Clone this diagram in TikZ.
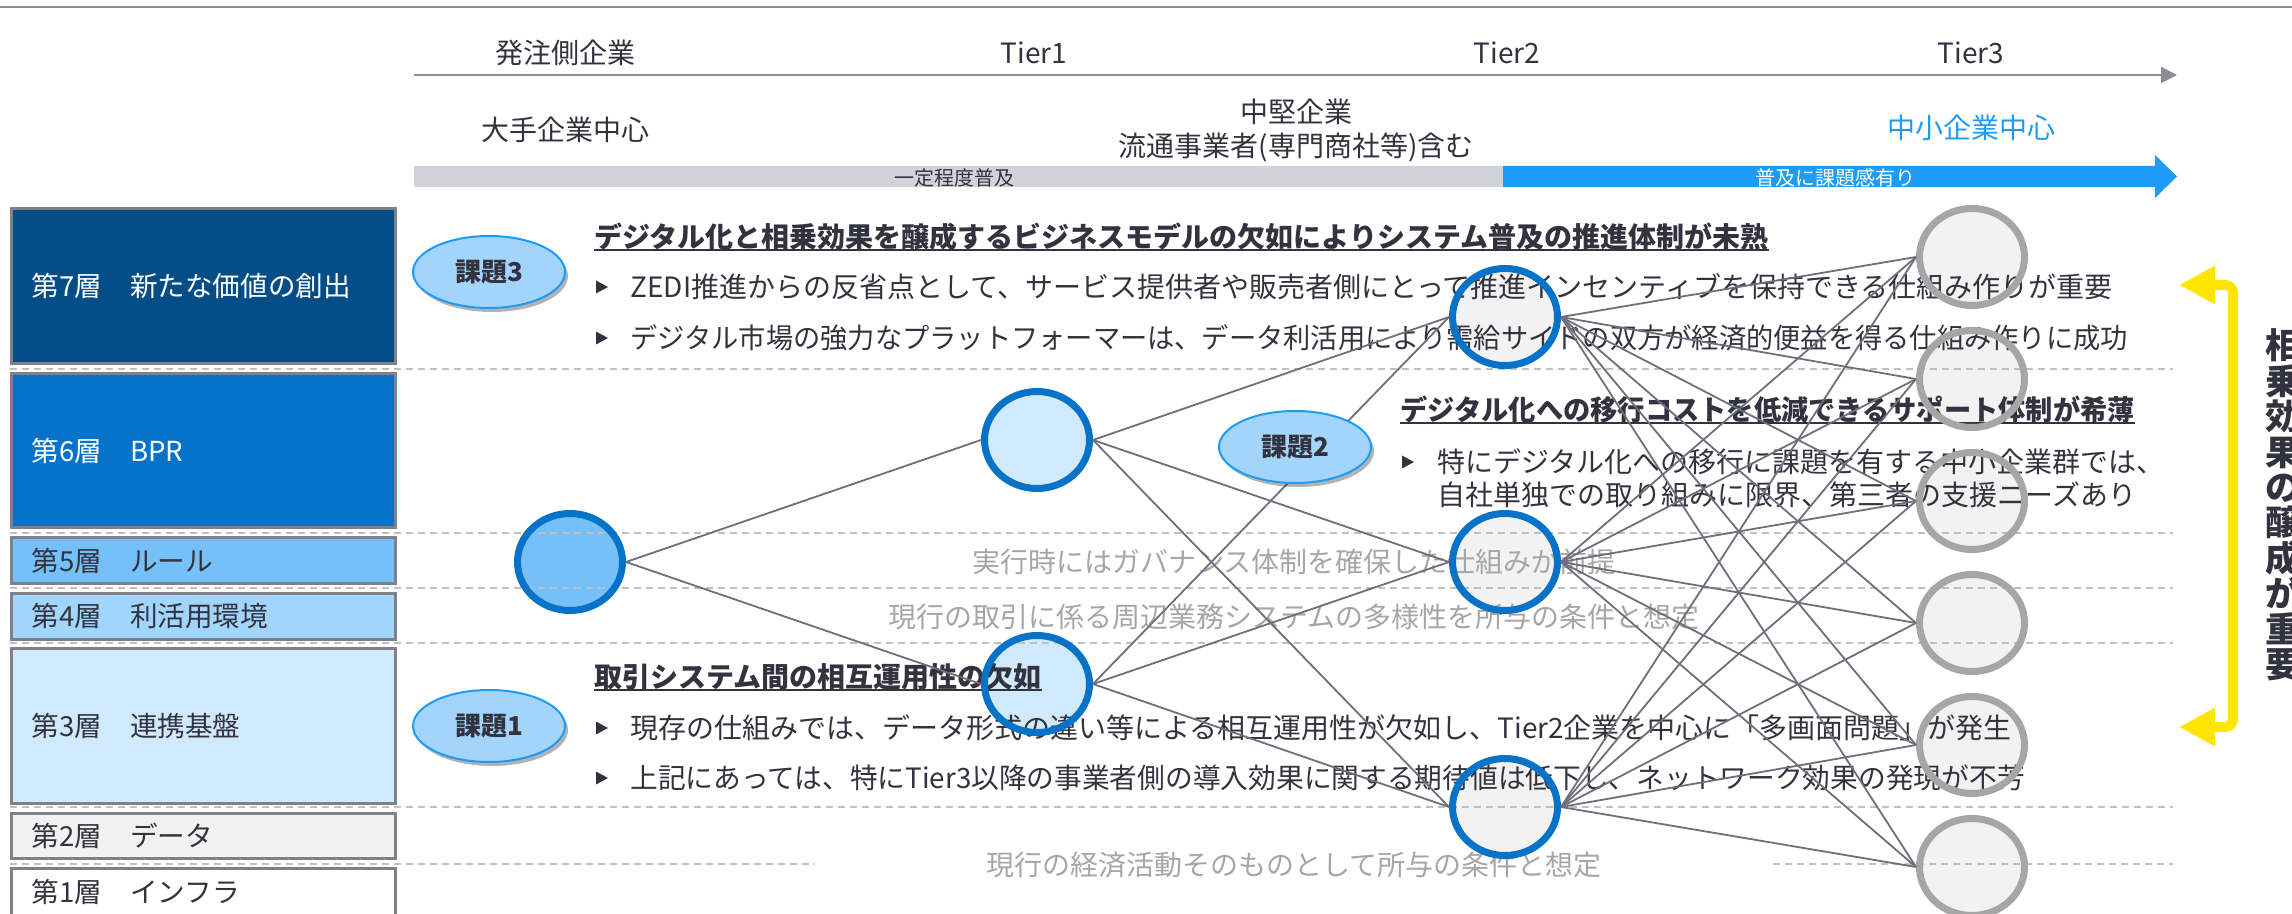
\documentclass[tikz,border=0pt]{standalone}
\usepackage{fontspec}
\usepackage{graphicx}
\setmainfont{Noto Sans CJK JP}
\usetikzlibrary{shapes.geometric,arrows.meta,shadows}
\definecolor{cInk}{HTML}{333340}
\definecolor{cGrayTxt}{HTML}{A6A6A6}
\definecolor{cRule}{HTML}{8C8C94}
\definecolor{cDash}{HTML}{BFBFBF}
\definecolor{cNet}{HTML}{6E6E7C}
\definecolor{cNavy}{HTML}{054D87}
\definecolor{cMid}{HTML}{0673C8}
\definecolor{cLay5}{HTML}{75C0F8}
\definecolor{cLay4}{HTML}{A2D5FC}
\definecolor{cLay3}{HTML}{D1E9FC}
\definecolor{cLay2}{HTML}{F2F2F2}
\definecolor{cBoxEdge}{HTML}{80808A}
\definecolor{cBarBg}{HTML}{D2D2DA}
\definecolor{cBarBlue}{HTML}{1E9BF5}
\definecolor{cKadai}{HTML}{A3D4FB}
\definecolor{cKadaiEdge}{HTML}{1E9BF5}
\definecolor{cRingGray}{HTML}{A6A6A6}
\definecolor{cYel}{HTML}{FFE600}
\begin{document}
\begin{tikzpicture}[x=0.5pt,y=-0.5pt,
  every node/.style={inner sep=0pt},
  hdr/.style={font=\fontsize{14pt}{17pt}\selectfont, text=cInk},
  body/.style={font=\fontsize{14pt}{17pt}\selectfont, text=cInk, anchor=west},
  head/.style={font=\bfseries\fontsize{14pt}{17pt}\selectfont, text=cInk, anchor=west},
  note/.style={font=\fontsize{14pt}{17pt}\selectfont, text=cGrayTxt},
  layer/.style={draw=cBoxEdge, line width=1.5pt, minimum width=192pt, text width=171pt, inner xsep=10.5pt, align=left, font=\fontsize{13.8pt}{16pt}\selectfont},
  dashline/.style={draw=cDash, line width=1pt, dash pattern=on 3.5pt off 2.5pt},
  ring/.style={shape=ellipse, minimum width=52.5pt, minimum height=48.5pt, line width=3.5pt},
  net/.style={draw=cNet, line width=0.9pt},
  kadai/.style={shape=ellipse, fill=cKadai, draw=cKadaiEdge, line width=1pt, minimum width=76pt, minimum height=36pt, font=\bfseries\fontsize{13pt}{15pt}\selectfont, text=cInk, drop shadow={shadow xshift=1.5pt, shadow yshift=-2pt, opacity=0.3, fill=black}},
  uline/.style={draw=cInk, line width=1pt},
  barlabel/.style={font=\fontsize{10pt}{12pt}\selectfont}
]
\useasboundingbox (0,0) rectangle (2292,914);
\clip (0,0) rectangle (2292,914);

% top rule
\draw[cRule, line width=1pt] (0,7) -- (2292,7);

% header
\node[hdr] (hA) at (565,53) {発注側企業};
\node[hdr] (hB) at (1034,53) {Tier1};
\node[hdr] (hC) at (1507,53) {Tier2};
\node[hdr] (hD) at (1971,53) {Tier3};
\coordinate (axS) at (414,75);
\coordinate (axE) at (2177,75);
\draw[cRule, line width=1pt, -{Triangle[length=8pt,width=8pt]}] (axS) -- (axE);
\node[hdr] (sA) at (565,130) {大手企業中心};
\node[hdr, align=center] (sB) at (1296,130) {中堅企業\\流通事業者(専門商社等)含む};
\node[hdr, text=cBarBlue] (sC) at (1971,128) {中小企業中心};

% progress bar
\fill[cBarBg] (414,166) rectangle (1503,187);
\fill[cBarBlue] (1503,166) -- (2155,166) -- (2155,155) -- (2177,176.5) -- (2155,198) -- (2155,187) -- (1503,187) -- cycle;
\begin{scope}
\clip (414,166) rectangle (2177,187);
\node[barlabel, text=cInk] (barL) at (954,177.5) {一定程度普及};
\node[barlabel, text=white] (barR) at (1835,177.5) {普及に課題感有り};
\end{scope}

% circle fills
\fill[cLay5] (570,562) ellipse [x radius=52.5, y radius=48.5];
\fill[cLay3] (1037,440) ellipse [x radius=52.5, y radius=48.5];
\fill[cLay3] (1037,684) ellipse [x radius=52.5, y radius=48.5];
\foreach \yy in {317,562,807}{\fill[cLay2] (1505,\yy) ellipse [x radius=52.5, y radius=48.5];}
\foreach \yy in {257,379,501,623,745,867}{\fill[cLay2] (1972,\yy) ellipse [x radius=52.5, y radius=48.5];}

% dashed separators
\foreach \yy in {369,533,588,643,807}{\draw[dashline] (10,\yy) -- (2173,\yy);}
\draw[dashline] (10,864) -- (815,864);
\draw[dashline] (1773,864) -- (2173,864);

% layer boxes
\node[layer, fill=cNavy, text=white, minimum height=77.5pt] (L7) at (203,286) {第7層　新たな価値の創出};
\node[layer, fill=cMid, text=white, minimum height=77pt] (L6) at (203,450.5) {第6層　BPR};
\node[layer, fill=cLay5, text=cInk, minimum height=23pt] (L5) at (203,560.5) {第5層　ルール};
\node[layer, fill=cLay4, text=cInk, minimum height=23pt] (L4) at (203,616.5) {第4層　利活用環境};
\node[layer, fill=cLay3, text=cInk, minimum height=77.5pt] (L3) at (203,726) {第3層　連携基盤};
\node[layer, fill=cLay2, text=cInk, minimum height=22.5pt] (L2) at (203,836) {第2層　データ};
\node[layer, fill=white, text=cInk, minimum height=23.5pt] (L1) at (203,892) {第1層　インフラ};

% texts
\node[head] (hd3) at (594,237) {デジタル化と相乗効果を醸成するビジネスモデルの欠如によりシステム普及の推進体制が未熟};
\draw[uline] ([yshift=-1pt]hd3.base west) -- ([yshift=-1pt]hd3.base east);
\fill[cInk] (596,280.5) -- (596,293.5) -- (608,287) -- cycle;
\node[body] (b31) at (630,287) {ZEDI推進からの反省点として、サービス提供者や販売者側にとって推進インセンティブを保持できる仕組み作りが重要};
\fill[cInk] (596,331.5) -- (596,344.5) -- (608,338) -- cycle;
\node[body] (b32) at (630,338) {\scalebox{0.973}[1]{デジタル市場の強力なプラットフォーマーは、データ利活用により需給サイドの双方が経済的便益を得る仕組み作りに成功}};

\node[head] (hd2) at (1400,410) {\scalebox{0.973}[1]{デジタル化への移行コストを低減できるサポート体制が希薄}};
\draw[uline] ([yshift=-1pt]hd2.base west) -- ([yshift=-1pt]hd2.base east);
\fill[cInk] (1402,455.5) -- (1402,468.5) -- (1414,462) -- cycle;
\node[body] (b21) at (1437,462) {特にデジタル化への移行に課題を有する中小企業群では、};
\node[body] (b22) at (1437,495) {自社単独での取り組みに限界、第三者の支援ニーズあり};

\node[note] (n1) at (1294,562) {実行時にはガバナンス体制を確保した仕組みが前提};
\node[note] (n2) at (1294,617) {現行の取引に係る周辺業務システムの多様性を所与の条件と想定};
\node[note] (n3) at (1294,865) {現行の経済活動そのものとして所与の条件と想定};

\node[head] (hd1) at (594,677) {取引システム間の相互運用性の欠如};
\draw[uline] ([yshift=-1pt]hd1.base west) -- ([yshift=-1pt]hd1.base east);
\fill[cInk] (596,721.5) -- (596,734.5) -- (608,728) -- cycle;
\node[body] (b11) at (630,728) {現存の仕組みでは、データ形式の違い等による相互運用性が欠如し、Tier2企業を中心に「多画面問題」が発生};
\fill[cInk] (596,771.5) -- (596,784.5) -- (608,778) -- cycle;
\node[body] (b12) at (630,778) {\scalebox{0.99}[1]{上記にあっては、特にTier3以降の事業者側の導入効果に関する期待値は低下し、ネットワーク効果の発現が不芳}};

% rings
\node[ring, draw=cMid] (t0) at (570,562) {};
\node[ring, draw=cMid] (t1a) at (1037,440) {};
\node[ring, draw=cMid] (t1b) at (1037,684) {};
\node[ring, draw=cMid] (t2a) at (1505,317) {};
\node[ring, draw=cMid] (t2b) at (1505,562) {};
\node[ring, draw=cMid] (t2c) at (1505,807) {};
\node[ring, draw=cRingGray] (t3a) at (1972,257) {};
\node[ring, draw=cRingGray] (t3b) at (1972,379) {};
\node[ring, draw=cRingGray] (t3c) at (1972,501) {};
\node[ring, draw=cRingGray] (t3d) at (1972,623) {};
\node[ring, draw=cRingGray] (t3e) at (1972,745) {};
\node[ring, draw=cRingGray] (t3f) at (1972,867) {};

% network
\draw[net] (t0.east) -- (t1a.west);
\draw[net] (t0.east) -- (t1b.west);
\foreach \a in {t1a,t1b}{\foreach \b in {t2a,t2b,t2c}{\draw[net] (\a.east) -- (\b.west);}}
\foreach \a in {t2a,t2b,t2c}{\foreach \b in {t3a,t3b,t3c,t3d,t3e,t3f}{\draw[net] (\a.east) -- (\b.west);}}

% kadai
\node[kadai] (k3) at (489,272) {課題3};
\node[kadai] (k2) at (1295,447) {課題2};
\node[kadai] (k1) at (489,726) {課題1};

% yellow bracket
\coordinate (yA) at (2179,285);
\coordinate (yB) at (2179,727);
\draw[cYel, line width=5pt, rounded corners=4pt, {Triangle[length=18pt,width=18pt]}-{Triangle[length=18pt,width=18pt]}] (yA) -- (2233,285) -- (2233,727) -- (yB);

\node[font=\bfseries\fontsize{17.5pt}{17.7pt}\selectfont, text=cInk, align=center] (vt) at (2283,505) {相\\乗\\効\\果\\の\\醸\\成\\が\\重\\要};
\end{tikzpicture}
\end{document}
